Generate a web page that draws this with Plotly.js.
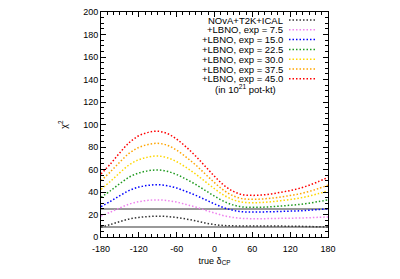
<!DOCTYPE html>
<html><head><meta charset="utf-8">
<script src="https://cdn.plot.ly/plotly-3.0.1.min.js"></script>
<style>html,body{margin:0;padding:0;background:#fff}#chart{width:400px;height:279px}</style>
</head><body><div id="chart"></div>
<script>
const deltaCP = [-180,-165,-150,-135,-120,-105,-90,-75,-60,-45,-30,-15,0,15,30,45,60,75,90,105,120,135,150,165,180];
const seriesNames = ["NOvA+T2K+ICAL","+LBNO, exp = 7.5","+LBNO, exp = 15.0","+LBNO, exp = 22.5","+LBNO, exp = 30.0","+LBNO, exp = 37.5","+LBNO, exp = 45.0"];
const chiBase  = [8.8,11.1,13.7,16.0,17.4,18.2,18.5,18.2,17.3,16.0,14.4,12.5,11.0,10.2,9.9,9.8,9.8,9.8,9.8,9.7,9.6,9.5,9.3,9.1,8.9];
const chiExp75 = [18.7,22.1,25.9,29.3,31.4,32.6,33.0,32.4,31.0,28.9,26.6,23.9,21.3,18.9,17.3,16.5,16.3,16.3,16.4,16.6,16.7,16.9,17.1,17.5,17.8];
const chiExp150= [27.0,31.7,36.8,41.4,44.4,45.9,46.5,45.6,43.5,40.5,37.1,33.3,29.4,26.0,23.7,22.4,22.2,22.3,22.4,22.7,23.0,23.3,23.8,24.4,25.0];
const chiExp225= [35.3,41.1,47.5,53.3,56.9,58.9,59.6,58.4,55.5,51.4,46.8,41.5,36.3,31.6,28.4,26.7,26.4,26.5,26.9,27.5,28.2,29.0,30.1,31.5,33.0];
const chiExp300= [42.4,49.5,57.2,64.3,68.7,71.1,72.0,70.5,66.9,61.8,56.0,49.4,42.9,37.1,33.0,30.9,30.5,30.7,31.3,32.3,33.3,34.6,36.4,38.6,41.0];
const chiExp375= [50.0,58.0,66.7,74.6,79.6,82.3,83.3,81.6,77.2,71.0,64.1,56.2,48.3,41.4,36.5,34.0,33.5,33.8,34.5,35.6,36.9,38.4,40.5,43.1,46.0];
const chiExp450= [56.0,65.0,75.0,84.0,90.0,93.0,94.0,92.0,87.0,80.0,72.0,63.0,54.0,46.0,40.5,37.5,37.0,37.3,38.3,39.7,41.3,43.3,46.0,49.3,53.0];
const sigmaLevels = [9, 25];
const xTicks = [-180,-120,-60,0,60,120,180];
const yTicks = [0,20,40,60,80,100,120,140,160,180,200];

const seriesData = [chiBase,chiExp75,chiExp150,chiExp225,chiExp300,chiExp375,chiExp450];
const colors = ["#333333","#ee82ee","#0000ff","#1f9a1f","#ffd700","#ffa500","#ff0000"];
const font = "Liberation Sans, Arial, sans-serif";
const dotDash = '1.5px,2px';

const traces = [];
sigmaLevels.forEach(v => traces.push({x:[deltaCP[0], deltaCP[deltaCP.length-1]], y:[v,v], mode:'lines',
  line:{color:'#777777', width:1.5}, showlegend:false, hoverinfo:'skip'}));
seriesData.forEach((ys,i) => traces.push({x:deltaCP, y:ys, mode:'lines', name:seriesNames[i],
  line:{color:colors[i], width:1.5, dash:dotDash, shape:'spline'}, showlegend:false}));

// custom legend: right-aligned text, sample line to the right
const annotations = [];
const shapes = [];
const rowTop = 20, rowStep = 9.8, H = 279, T = 12, B = 42, plotH = H - T - B;
function py(p){ return 1 - (p - T)/plotH; }
seriesNames.forEach((n,i) => {
  const yy = py(rowTop + i*rowStep);
  annotations.push({xref:'paper', yref:'paper', x:(284-101)/227, y:yy, xanchor:'right', yanchor:'middle',
    text:n, showarrow:false, borderpad:0, font:{family:font, size:9.5, color:'#000'}});
  shapes.push({type:'line', xref:'paper', yref:'paper', x0:(289-101)/227, x1:(317-101)/227, y0:yy, y1:yy,
    line:{color:colors[i], width:1.5, dash:dotDash}});
});
annotations.push({xref:'paper', yref:'paper', x:(245-101)/227, y:py(rowTop + 7*rowStep), xanchor:'center', yanchor:'middle',
  text:'(in 10<sup>21</sup> pot-kt)', showarrow:false, borderpad:0, font:{family:font, size:9.5, color:'#000'}});

const axisCommon = {showline:true, linecolor:'#000', linewidth:1, mirror:'allticks', ticks:'inside', ticklen:5,
  tickcolor:'#000', showgrid:false, zeroline:false, tickfont:{family:font, size:9, color:'#000'}};

const layout = {
  width:400, height:279, margin:{l:101, r:72, t:12, b:42},
  paper_bgcolor:'#fff', plot_bgcolor:'#fff', showlegend:false,
  xaxis:Object.assign({}, axisCommon, {range:[-180,180], tickvals:xTicks, ticktext:xTicks.map(String),
    ticklabelstandoff:3,
    minor:{dtick:10, ticks:'inside', ticklen:3, tickcolor:'#000'},
    title:{text:'true δ<sub>CP</sub>', font:{family:font, size:9, color:'#000'}, standoff:4}}),
  yaxis:Object.assign({}, axisCommon, {range:[0,200], tickvals:yTicks, ticktext:yTicks.map(String),
    minor:{dtick:5, ticks:'inside', ticklen:3, tickcolor:'#000'},
    title:{text:'χ<sup>2</sup>', font:{family:font, size:9, color:'#000'}, standoff:14}}),
  annotations:annotations, shapes:shapes
};
Plotly.newPlot('chart', traces, layout, {staticPlot:true, displayModeBar:false});
</script></body></html>
